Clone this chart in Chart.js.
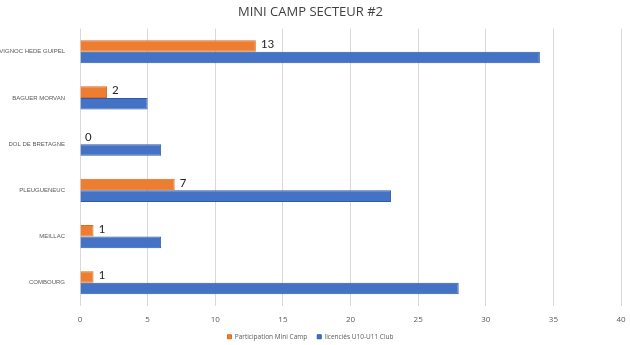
<!DOCTYPE html>
<html>
<head>
<meta charset="utf-8">
<script src="https://cdn.jsdelivr.net/npm/chart.js@4.4.0/dist/chart.umd.min.js"></script>
<style>
    html, body { margin: 0; padding: 0; background: #fff; }
    #wrap { width: 630px; height: 345px; }
</style>
</head>
<body>
<div id="wrap"><canvas id="campChart"></canvas></div>
<script>
// chart data
const clubs = ['VIGNOC HEDE GUIPEL', 'BAGUER MORVAN', 'DOL DE BRETAGNE', 'PLEUGUENEUC', 'MEILLAC', 'COMBOURG'];
const participation = [13, 2, 0, 7, 1, 1];
const licencies = [34, 5, 6, 23, 6, 28];
const xTicks = [0, 5, 10, 15, 20, 25, 30, 35, 40];

const smallFont = '"Liberation Sans", Arial, sans-serif';

// draw value next to the end of the orange bars
const endLabels = {
    id: 'endLabels',
    afterDatasetsDraw(chart) {
        const ctx = chart.ctx;
        const meta = chart.getDatasetMeta(0);
        ctx.save();
        ctx.font = '13px Carlito, "Open Sans", "DejaVu Sans", sans-serif';
        ctx.fillStyle = '#262626';
        ctx.textAlign = 'left';
        ctx.textBaseline = 'middle';
        meta.data.forEach((bar, i) => {
            ctx.fillText(String(participation[i]), bar.x + 5, bar.y - 1);
        });
        ctx.restore();
    }
};

// legend sits a bit higher than chart.js puts it with the negative bottom padding
const legendShift = {
    id: 'legendShift',
    afterLayout(chart) {
        const lg = chart.legend;
        if (lg) {
            lg.top -= 10;
            lg.bottom -= 10;
        }
    }
};

document.addEventListener('DOMContentLoaded', function() {
    const ctx = document.getElementById('campChart').getContext('2d');

    new Chart(ctx, {
        type: 'bar',
        data: {
            labels: clubs,
            datasets: [{
                label: 'Participation Mini Camp',
                data: participation,
                backgroundColor: '#ED7D31',
                borderColor: '#D86C22',
                borderWidth: 1
            }, {
                label: 'licenciés U10-U11 Club',
                data: licencies,
                backgroundColor: '#4472C4',
                borderColor: '#2F5AA8',
                borderWidth: 1
            }]
        },
        options: {
            indexAxis: 'y',
            responsive: true,
            maintainAspectRatio: false,
            animation: false,
            categoryPercentage: 0.5,
            barPercentage: 1.0,
            layout: {
                padding: { left: 0, right: 9, top: 2, bottom: -15 }
            },
            scales: {
                x: {
                    min: 0,
                    max: 40,
                    afterBuildTicks: function(axis) {
                        axis.ticks = xTicks.map(v => ({ value: v }));
                    },
                    afterFit: function(axis) { axis.paddingRight = 0; },
                    grid: { color: '#D9D9D9', drawTicks: false },
                    border: { display: false },
                    ticks: {
                        color: '#595959',
                        font: { size: 8, family: '"Open Sans", sans-serif' },
                        padding: 9
                    }
                },
                y: {
                    grid: { display: false },
                    border: { display: false },
                    afterFit: function(axis) { axis.width = 80; },
                    ticks: {
                        color: '#595959',
                        font: { size: 6, family: smallFont },
                        padding: 7
                    }
                }
            },
            plugins: {
                title: {
                    display: true,
                    text: 'MINI CAMP SECTEUR #2',
                    color: '#404040',
                    font: { size: 13, weight: 'normal', family: '"Open Sans", sans-serif' },
                    padding: { top: 2, bottom: 9 }
                },
                legend: {
                    position: 'bottom',
                    labels: {
                        color: '#595959',
                        font: { size: 6.5, family: '"Open Sans", sans-serif' },
                        boxWidth: 4,
                        boxHeight: 4,
                        padding: 10
                    }
                },
                tooltip: { enabled: false }
            }
        },
        plugins: [endLabels, legendShift]
    });
});
</script>
</body>
</html>
